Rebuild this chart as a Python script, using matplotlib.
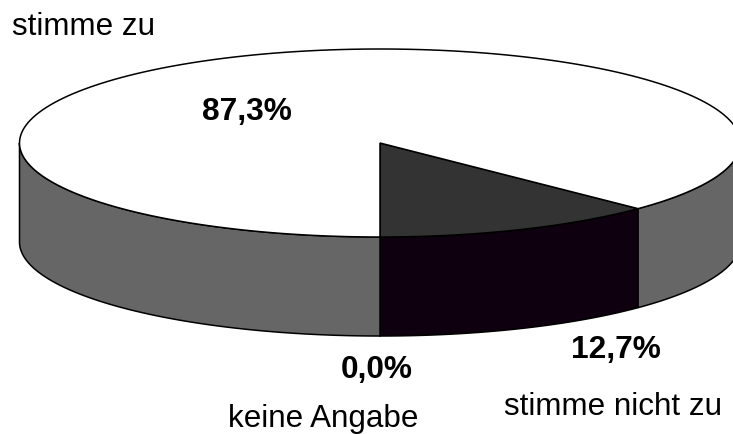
import numpy as np
import matplotlib
matplotlib.use('Agg')
import matplotlib.pyplot as plt

# slices, counter-clockwise from the bottom of the disc
labels = ['stimme nicht zu', 'stimme zu', 'keine Angabe']
shares = [12.7, 87.3, 0.0]
pct_labels = ['12,7%', '87,3%', '0,0%']
top_colors = ['#333333', '#ffffff', '#ffffff']
side_colors = ['#0f000f', '#666666', '#666666']

cx, cy = 380, 143
rx, ry = 360.5, 94
depth = 99

plt.rcParams['font.family'] = ['Liberation Sans', 'DejaVu Sans']

fig = plt.figure(figsize=(7.33, 4.34), dpi=100)
ax = fig.add_axes([0, 0, 1, 1])
ax.set_xlim(0, 733)
ax.set_ylim(434, 0)
ax.axis('off')


def rim(a0, a1):
    # a is degrees counter-clockwise from the bottom point of the ellipse
    a = np.radians(np.linspace(a0, a1, 200))
    return cx + rx * np.sin(a), cy + ry * np.cos(a)


start = 0
for share, top, side in zip(shares, top_colors, side_colors):
    stop = start + share * 3.6
    if share > 0:
        # wall, only the part facing us (front half of the rim)
        for s0, s1 in [(start, min(stop, 90)), (max(start, 270), stop)]:
            if s1 > s0:
                x, y = rim(s0, s1)
                ax.fill(np.r_[x, x[::-1]], np.r_[y, y[::-1] + depth],
                        facecolor=side, edgecolor='#000000', lw=1.1, zorder=2)
        x, y = rim(start, stop)
        ax.fill(np.r_[cx, x], np.r_[cy, y], facecolor=top,
                edgecolor='#000000', lw=1.1, zorder=3)
    start = stop

ax.text(246.5, 112, pct_labels[1], fontsize=22.8, fontweight='bold', ha='center', va='center')
ax.text(616, 350, pct_labels[0], fontsize=22.8, fontweight='bold', ha='center', va='center')
ax.text(377, 370, pct_labels[2], fontsize=22.8, fontweight='bold', ha='center', va='center')

ax.text(84, 27, labels[1], fontsize=22.6, ha='center', va='center')
ax.text(613, 407, labels[0], fontsize=22.6, ha='center', va='center')
ax.text(323, 419, labels[2], fontsize=22.6, ha='center', va='center')

fig.savefig('out.png', dpi=100)
